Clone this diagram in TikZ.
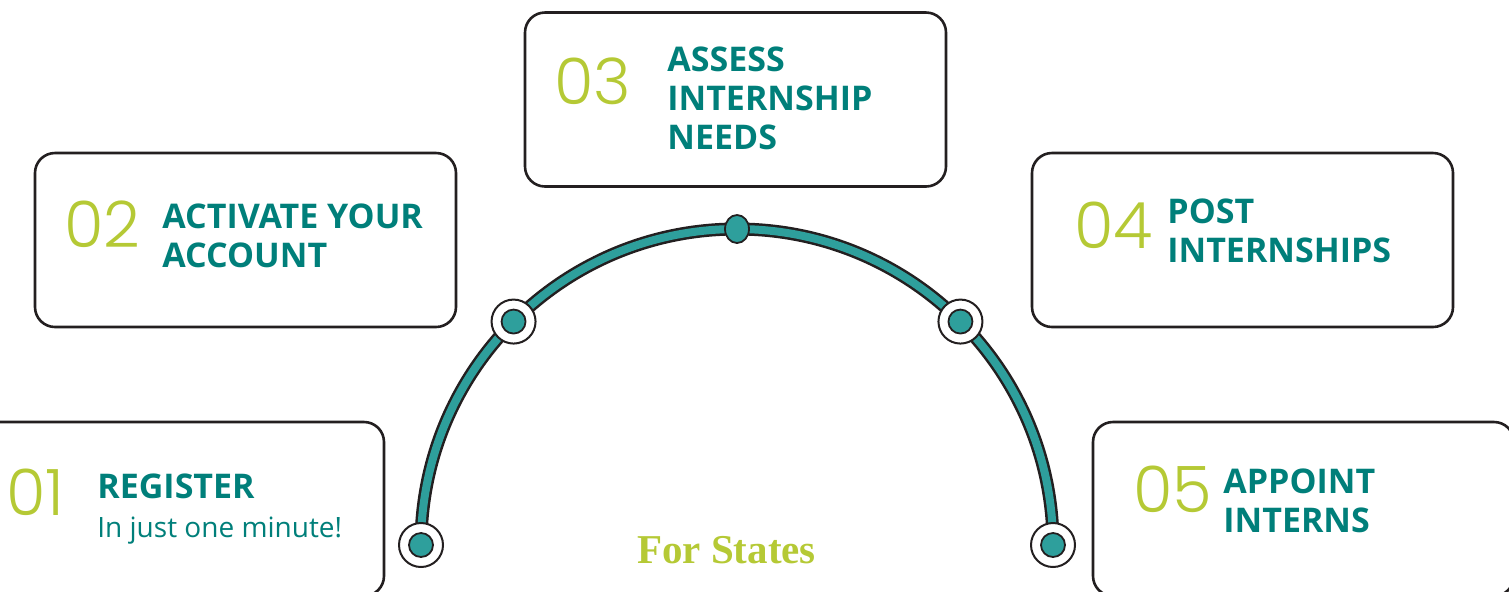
\documentclass[tikz,border=0pt]{standalone}
\usepackage{fontspec}
\usepackage{xcolor}
\usetikzlibrary{positioning,shapes.geometric}
\setmainfont{Open Sans}
\newfontfamily\numfont{Poppins Light}
\newfontfamily\titlefont{Liberation Serif}
\definecolor{ink}{HTML}{231F20}
\definecolor{headteal}{HTML}{007F7A}
\definecolor{arcteal}{HTML}{2E9F9C}
\definecolor{lime}{HTML}{B5C935}
\tikzset{%
	stepbox/.style  = {draw=ink, line width=1.3pt, rounded corners=10pt, minimum width=210.5pt, minimum height=87pt, inner sep=0pt},
	stepnum/.style  = {text=lime, font=\numfont\fontsize{32}{32}\selectfont, inner sep=0pt, anchor=west},
	steptext/.style = {text=headteal, font=\bfseries\fontsize{17}{19.5}\selectfont, align=left, inner sep=0pt, anchor=base west},
	ring/.style     = {circle, draw=ink, fill=white, line width=1pt, minimum size=22pt, inner sep=0pt},
	dot/.style      = {circle, draw=ink, fill=arcteal, line width=0.9pt, minimum size=12pt, inner sep=0pt},
}

\begin{document}
\begin{tikzpicture}[x=0.5pt,y=-0.5pt]
		\useasboundingbox (0,0) rectangle (1509,591);
		\clip (0,0) rectangle (1509,591);
		
		% boxes
		\node[stepbox] (b1) at (173.5,509) {};
		\node[stepbox] (b2) at (245.5,240) {};
		\node[stepbox] (b3) at (735.5,99.5) {};
		\node[stepbox] (b4) at (1242.5,240) {};
		\node[stepbox] (b5) at (1303.5,509) {};
		
		% numbers and texts
		\node[stepnum] (n1) at (6,492) {01};
		\node[steptext] (t1) at (97,537) {REGISTER\\{\mdseries\fontsize{14}{19.5}\selectfont In just one minute!}};
		\node[stepnum] (n2) at (64,224) {02};
		\node[steptext] (t2) at (162,267) {ACTIVATE YOUR\\ACCOUNT};
		\node[stepnum] (n3) at (554,81) {03};
		\node[steptext] (t3) at (667,149) {ASSESS\\INTERNSHIP\\NEEDS};
		\node[stepnum] (n4) at (1074,225) {04};
		\node[steptext] (t4) at (1167,262) {POST\\INTERNSHIPS};
		\node[stepnum] (n5) at (1133,489) {05};
		\node[steptext] (t5) at (1223,532) {APPOINT\\INTERNS};
		
		% arc
		\draw[ink,line width=6.5pt] (421,545) arc[start angle=180,end angle=0,radius=158pt];
		\draw[arcteal,line width=4pt] (421,545) arc[start angle=180,end angle=0,radius=158pt];
		
		\foreach \a/\n in {180/1,135/2,45/4,0/5} {
			\node[ring] (r\n) at ({737+316*cos(\a)},{545-316*sin(\a)}) {};
			\node[dot] (d\n) at (r\n) {};
		}
		\node[dot, ellipse, minimum width=12pt, minimum height=14pt] (d3) at (737,229) {};
		
		\node[text=lime, font=\titlefont\bfseries\fontsize{20.5}{24}\selectfont, anchor=base] (title) at (726.5,563) {For States};
		
\end{tikzpicture}
\end{document}
